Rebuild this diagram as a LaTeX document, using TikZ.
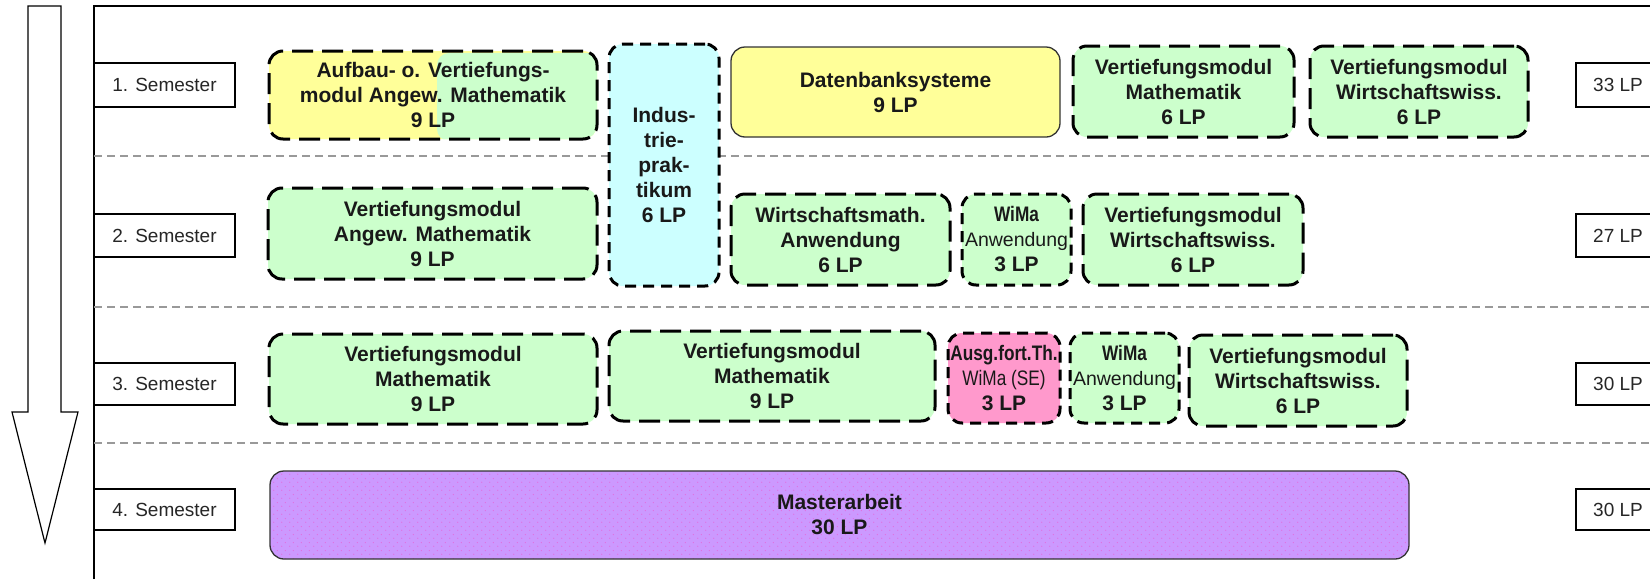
\documentclass[tikz,border=0pt]{standalone}
\usepackage{fontspec}
\setmainfont{Liberation Sans}
\newfontfamily\narrowfont[FakeStretch=0.82]{Liberation Sans}
\usetikzlibrary{patterns.meta}
\definecolor{cyel}{HTML}{FFFF99}
\definecolor{cgrn}{HTML}{CCFFCC}
\definecolor{ccyan}{HTML}{CCFFFF}
\definecolor{cpink}{HTML}{FF99CC}
\definecolor{cpurp}{HTML}{CC99FF}
\definecolor{dotmag}{HTML}{E070E0}
\definecolor{sepgray}{HTML}{999999}
\tikzdeclarepattern{name=mdots, type=uncolored,
  bounding box={(0pt,0pt) and (8pt,8pt)}, tile size={(8pt,8pt)},
  code={\fill (2pt,2pt) circle (0.7pt); \fill (6pt,6pt) circle (0.7pt);}}
\begin{document}
\begin{tikzpicture}[x=1pt,y=-1pt,
  modbox/.style={rounded corners=14pt, draw=black, line width=3pt, dash pattern=on 21pt off 9pt,
    align=center, inner sep=0pt, font=\bfseries\fontsize{21}{25}\selectfont, text=black!90},
  shortdash/.style={dash pattern=on 11pt off 7pt},
  solidbox/.style={rounded corners=14pt, draw=black!80, line width=1.3pt, align=center, inner sep=0pt,
    font=\bfseries\fontsize{21}{25}\selectfont, text=black!90},
  labelbox/.style={draw=black, line width=1.2pt, inner sep=0pt, fill=white,
    font=\fontsize{19}{22}\selectfont, text=black!85},
  sepline/.style={draw=sepgray, line width=1.5pt, dash pattern=on 8pt off 5pt},
  frameline/.style={draw=black, line width=1.3pt},
]
\clip (0,0) rectangle (1650,579);
\fill[white] (0,0) rectangle (1650,579);

% frame
\draw[frameline] (94,579) -- (94,6) -- (1650,6);
% separators
\draw[sepline] (94,156) -- (1650,156);
\draw[sepline] (94,307) -- (1650,307);
\draw[sepline] (94,443) -- (1650,443);

% arrow
\draw[line width=1.2pt, fill=white, line join=miter]
  (28,6) -- (61,6) -- (61,412) -- (78,412) -- (45,543) -- (12,412) -- (28,412) -- cycle;

% semester labels
\node[labelbox, minimum width=141pt, minimum height=44pt] (s1) at (164.5,85) {1. Semester};
\node[labelbox, minimum width=141pt, minimum height=43pt] (s2) at (164.5,235.5) {2. Semester};
\node[labelbox, minimum width=141pt, minimum height=42pt] (s3) at (164.5,384) {3. Semester};
\node[labelbox, minimum width=141pt, minimum height=41pt] (s4) at (164.5,509.5) {4. Semester};

% LP labels
\node[labelbox, minimum width=84pt, minimum height=44pt] (lp1) at (1618,85) {33 LP};
\node[labelbox, minimum width=84pt, minimum height=43pt] (lp2) at (1618,235.5) {27 LP};
\node[labelbox, minimum width=84pt, minimum height=42pt] (lp3) at (1618,384) {30 LP};
\node[labelbox, minimum width=84pt, minimum height=41pt] (lp4) at (1618,509.5) {30 LP};

% row 1
\node[modbox, fill=cyel, minimum width=328pt, minimum height=88pt,
  path picture={\fill[cgrn, rounded corners=12pt]
    ([xshift=168pt,yshift=-2pt]path picture bounding box.south west)
    rectangle ([xshift=20pt,yshift=-2pt]path picture bounding box.north east);}]
  (aufbau) at (433,95) {Aufbau- o. Vertiefungs-\\modul Angew. Mathematik\\9 LP};
\node[modbox, shortdash, fill=ccyan, minimum width=110pt, minimum height=242pt]
  (indus) at (664,165) {Indus-\\trie-\\prak-\\tikum\\6 LP};
\node[solidbox, fill=cyel, minimum width=329pt, minimum height=90pt]
  (dbs) at (895.5,92) {Datenbanksysteme\\9 LP};
\node[modbox, fill=cgrn, minimum width=221pt, minimum height=91pt]
  (vmmA) at (1183.5,91.5) {Vertiefungsmodul\\Mathematik\\6 LP};
\node[modbox, fill=cgrn, minimum width=218pt, minimum height=91pt]
  (vmwA) at (1419,91.5) {Vertiefungsmodul\\Wirtschaftswiss.\\6 LP};

% row 2
\node[modbox, fill=cgrn, minimum width=329pt, minimum height=91pt]
  (vmaB) at (432.5,233.5) {Vertiefungsmodul\\Angew. Mathematik\\9 LP};
\node[modbox, fill=cgrn, minimum width=219pt, minimum height=91pt]
  (wmB) at (840.5,239.5) {Wirtschaftsmath.\\Anwendung\\6 LP};
\node[modbox, shortdash, fill=cgrn, minimum width=109pt, minimum height=91pt]
  (wiB) at (1016.5,239.5) {{\narrowfont\bfseries WiMa}\\{\mdseries\fontsize{19.5}{25}\selectfont Anwendung}\\3 LP};
\node[modbox, fill=cgrn, minimum width=220pt, minimum height=91pt]
  (vmwB) at (1193,239.5) {Vertiefungsmodul\\Wirtschaftswiss.\\6 LP};

% row 3
\node[modbox, fill=cgrn, minimum width=328pt, minimum height=90pt]
  (vmmC) at (433,379) {Vertiefungsmodul\\Mathematik\\9 LP};
\node[modbox, fill=cgrn, minimum width=326pt, minimum height=90pt]
  (vmmD) at (772,376) {Vertiefungsmodul\\Mathematik\\9 LP};
\node[modbox, shortdash, fill=cpink, minimum width=112pt, minimum height=90pt]
  (ausg) at (1004,378) {{\narrowfont\bfseries Ausg.fort.Th.}\\{\narrowfont\mdseries WiMa (SE)}\\3 LP};
\node[modbox, shortdash, fill=cgrn, minimum width=109pt, minimum height=90pt]
  (wiC) at (1124.5,378) {{\narrowfont\bfseries WiMa}\\{\mdseries\fontsize{19.5}{25}\selectfont Anwendung}\\3 LP};
\node[modbox, fill=cgrn, minimum width=218pt, minimum height=91pt]
  (vmwC) at (1298,380.5) {Vertiefungsmodul\\Wirtschaftswiss.\\6 LP};

% row 4
\node[solidbox, preaction={fill=cpurp}, pattern={mdots}, pattern color=dotmag,
  minimum width=1139pt, minimum height=88pt]
  (master) at (839.5,515) {Masterarbeit\\30 LP};
\end{tikzpicture}
\end{document}
